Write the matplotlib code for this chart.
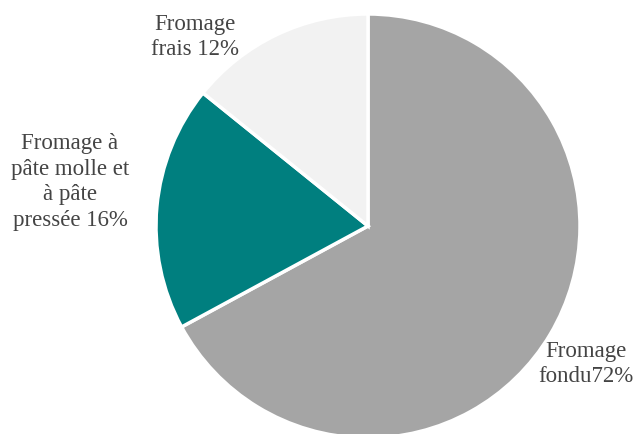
import matplotlib
matplotlib.use("Agg")
import matplotlib.pyplot as plt

categories = ["Fromage fondu", "Fromage à pâte molle et à pâte pressée", "Fromage frais"]
values = [67.1, 18.7, 14.2]
label_texts = ["Fromage\nfondu72%", "Fromage à\npâte molle et\nà pâte\npressée 16%", "Fromage\nfrais 12%"]
colors = ["#A5A5A5", "#007F7F", "#F2F2F2"]

plt.rcParams["font.family"] = ["Liberation Serif", "DejaVu Serif"]

W, H = 633, 434
fig = plt.figure(figsize=(W / 100, H / 100), dpi=100)

cx, cy, r = 368, 226, 212
ax = fig.add_axes([(cx - r) / W, (H - cy - r) / H, 2 * r / W, 2 * r / H])
ax.pie(values, colors=colors, startangle=90, counterclock=False, radius=1,
       wedgeprops=dict(edgecolor="white", linewidth=2.5))
ax.set_xlim(-1, 1)
ax.set_ylim(-1, 1)
ax.set_aspect("equal")
ax.axis("off")

# étiquettes (positions en pixels)
label_pos = [(586, 364), (70, 182), (195, 37)]
for txt, (px, py) in zip(label_texts, label_pos):
    fig.text(px / W, 1 - py / H, txt, ha="center", va="center",
             fontsize=16.5, color="#444444", linespacing=1.28)

fig.savefig("out.png", dpi=100)
